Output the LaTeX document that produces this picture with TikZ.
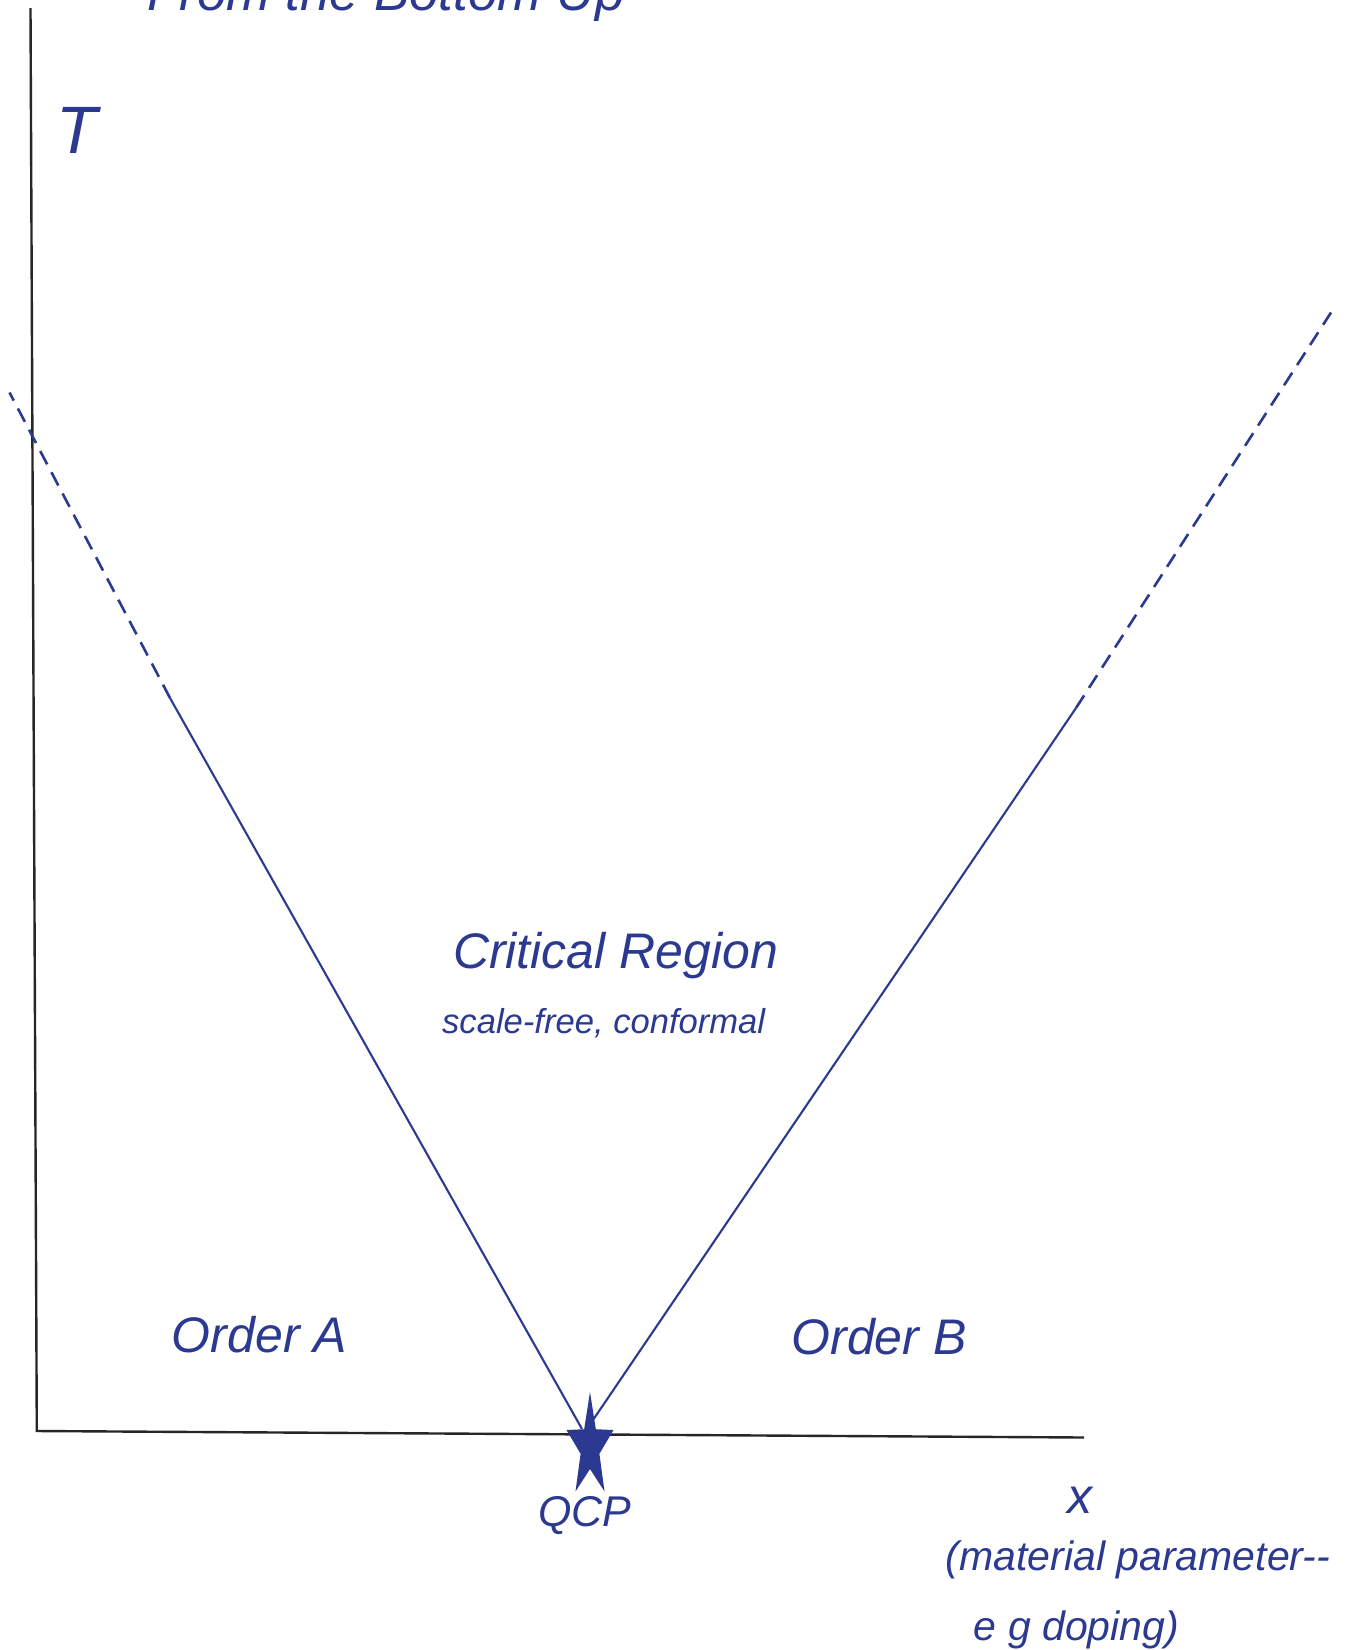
\documentclass[tikz,border=0pt]{standalone}
\usepackage{fontspec}
\setmainfont{Liberation Sans}
\usetikzlibrary{positioning}
\definecolor{qblue}{RGB}{43,57,144}

\begin{document}
\begin{tikzpicture}[x=0.5pt, y=-0.5pt,
  lbl/.style={text=qblue, inner sep=0pt, anchor=base},
  bigT/.style={lbl, font=\itshape\fontsize{33.5}{40}\selectfont},
  big/.style={lbl, font=\itshape\fontsize{25}{30}\selectfont},
  mid/.style={lbl, font=\itshape\fontsize{21.5}{26}\selectfont},
  sml/.style={lbl, font=\itshape\fontsize{17.3}{21}\selectfont},
  axis/.style={black!85, line width=1.2pt},
  bound/.style={qblue, line width=1.05pt},
  bounddash/.style={qblue, line width=1.3pt, dash pattern=on 7.5pt off 4.5pt},
  qcpstar/.style={fill=qblue}
]
\useasboundingbox (0,0) rectangle (1347,1650);

% axes
\coordinate (ytop) at (30.5,8);
\coordinate (origin) at (36.8,1431);
\coordinate (xend) at (1084,1437.5);
\draw[axis] (ytop) -- (origin) -- (xend);

% crossover lines from the QCP
\coordinate (qcp) at (590,1447);
\coordinate (lapex) at (582,1429);
\coordinate (ljoin) at (170,698);
\coordinate (ltop) at (9.5,392.5);
\coordinate (rapex) at (593,1420);
\coordinate (rjoin) at (1076,708);
\coordinate (rtop) at (1331,312.5);
\draw[bound] (lapex) -- (ljoin);
\draw[bounddash] (ljoin) -- (ltop);
\draw[bound] (rapex) -- (rjoin);
\draw[bounddash] (rjoin) -- (rtop);

% star marking the QCP
\fill[qcpstar, shift={(qcp)}] plot[samples at={0,...,9}]
  ({24.7*ifthenelse(mod(\x,2)==0,1,0.4)*cos(90+36*\x)},
   {-55*ifthenelse(mod(\x,2)==0,1,0.4)*sin(90+36*\x)}) -- cycle;

% labels
\node[lbl, font=\itshape\fontsize{26.5}{32}\selectfont] (title) at (386,10) {From the Bottom Up};
\node[bigT, anchor=base west] (tlab) at (56,153) {T};
\node[big] (crit) at (615.6,968) {Critical Region};
\node[sml] (scalefree) at (603.7,1033) {scale-free, conformal};
\node[big] (ordA) at (259.5,1352) {Order A};
\node[big] (ordB) at (879,1354) {Order B};
\node[mid] (qcplab) at (584.6,1526) {QCP};
\node[big] (xlab) at (1080,1513) {x};
\node[mid, font=\itshape\fontsize{20.5}{25}\selectfont] (param) at (1138,1570) {(material parameter-{}-};
\node[mid, font=\itshape\fontsize{20.5}{25}\selectfont] (doping) at (1076.5,1640) {e g doping)};
\end{tikzpicture}
\end{document}
